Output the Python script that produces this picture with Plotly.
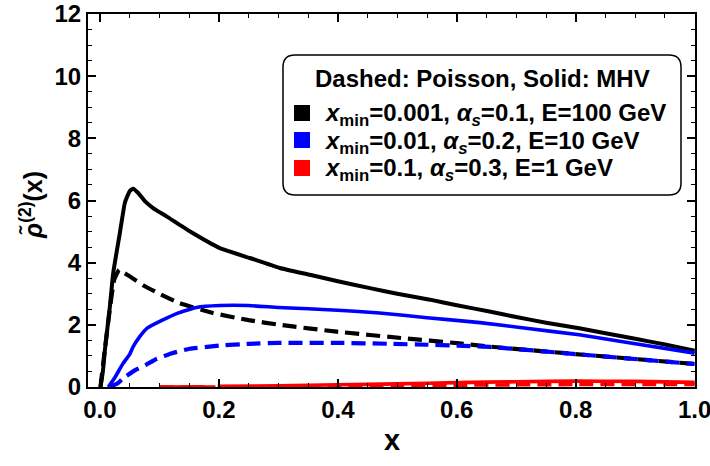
import plotly.graph_objects as go

# ---------------- data ----------------
black_mhv_x = [0.001, 0.005, 0.0084, 0.0168, 0.0224, 0.0336, 0.042, 0.05, 0.056, 0.064, 0.0756,
               0.09, 0.112, 0.151, 0.2017, 0.252, 0.3025, 0.353, 0.40, 0.454, 0.50, 0.555, 0.60,
               0.655, 0.70, 0.75, 0.806, 0.85, 0.90, 0.95, 1.0]
black_mhv_y = [0.0, 0.5, 1.19, 2.59, 3.67, 4.96, 5.93, 6.3, 6.38, 6.25, 5.98,
               5.75, 5.49, 5.01, 4.47, 4.15, 3.83, 3.61, 3.40, 3.18, 3.0, 2.81, 2.63,
               2.43, 2.25, 2.07, 1.89, 1.73, 1.55, 1.37, 1.17]

black_poi_x = [0.001, 0.008, 0.016, 0.024, 0.0325, 0.04, 0.05, 0.075, 0.1, 0.134, 0.19, 0.25,
               0.3025, 0.398, 0.51, 0.60, 0.655, 0.818, 1.0]
black_poi_y = [0.0, 1.15, 2.4, 3.45, 3.77, 3.68, 3.56, 3.25, 3.0, 2.70, 2.38, 2.15,
               2.0, 1.78, 1.57, 1.41, 1.30, 1.03, 0.74]

blue_mhv_x = [0.014, 0.025, 0.039, 0.05, 0.056, 0.067, 0.08, 0.106, 0.13, 0.1625, 0.2017, 0.25,
              0.30, 0.40, 0.47, 0.55, 0.639, 0.72, 0.806, 0.90, 1.0]
blue_mhv_y = [0.0, 0.3, 0.76, 1.05, 1.3, 1.62, 1.9, 2.16, 2.37, 2.56, 2.62, 2.62,
              2.56, 2.47, 2.38, 2.23, 2.07, 1.88, 1.68, 1.39, 1.09]

blue_poi_x = [0.016, 0.03, 0.039, 0.06, 0.078, 0.095, 0.12, 0.151, 0.2, 0.25, 0.3, 0.4,
              0.487, 0.55, 0.60, 0.655, 0.818, 1.0]
blue_poi_y = [0.0, 0.12, 0.28, 0.55, 0.72, 0.9, 1.08, 1.23, 1.33, 1.39, 1.42, 1.42,
              1.39, 1.36, 1.33, 1.29, 1.03, 0.74]

red_mhv_x = [0.1, 0.176, None, 0.198, 0.3, 0.4, 0.5, 0.6, 0.7, 0.8, 0.9, 1.0]
red_mhv_y = [0.0, 0.01, None, 0.02, 0.04, 0.07, 0.10, 0.14, 0.17, 0.19, 0.18, 0.15]

red_poi_x = [0.1, 0.2, 0.3, 0.4, 0.5, 0.6, 0.7, 0.8, 0.9, 1.0]
red_poi_y = [0.0, 0.0, 0.01, 0.03, 0.05, 0.06, 0.07, 0.08, 0.08, 0.08]

x_ticks = [0.0, 0.2, 0.4, 0.6, 0.8, 1.0]
x_ticktext = ["0.0", "0.2", "0.4", "0.6", "0.8", "1.0"]
y_ticks = [0, 2, 4, 6, 8, 10, 12]

legend_title = "Dashed: Poisson, Solid: MHV"
legend_labels = [
    "<i>x</i><sub>min</sub>=0.001, <i>α<sub>s</sub></i>=0.1, E=100 GeV",
    "<i>x</i><sub>min</sub>=0.01, <i>α<sub>s</sub></i>=0.2, E=10 GeV",
    "<i>x</i><sub>min</sub>=0.1, <i>α<sub>s</sub></i>=0.3, E=1 GeV",
]
legend_colors = ["#000000", "#0000FF", "#FF0000"]

# ---------------- layout geometry ----------------
W, H = 710, 466
L, R, T, B = 88, 15, 14, 79
PW, PH = W - L - R, H - T - B


def pxx(x):
    return (x - L) / PW


def pxy(y):
    return (H - B - y) / PH


FONT = "Liberation Sans, Arial, sans-serif"

fig = go.Figure()

DASH = "14px,7px"
series = [
    (black_poi_x, black_poi_y, "#000000", DASH, 4.2),
    (blue_poi_x, blue_poi_y, "#0000FF", DASH, 4.2),
    (red_poi_x, red_poi_y, "#FF0000", DASH, 3.6),
    (black_mhv_x, black_mhv_y, "#000000", "solid", 4.0),
    (blue_mhv_x, blue_mhv_y, "#0000FF", "solid", 3.6),
    (red_mhv_x, red_mhv_y, "#FF0000", "solid", 3.6),
]
for xs, ys, col, dash, w in series:
    fig.add_trace(go.Scatter(x=xs, y=ys, mode="lines",
                             line=dict(color=col, width=w, dash=dash, shape="spline", smoothing=0.4),
                             showlegend=False, hoverinfo="skip", connectgaps=False))

axis_common = dict(
    showgrid=False, zeroline=False, showline=True, linecolor="black", linewidth=2,
    mirror="ticks", ticks="inside", ticklen=8, tickwidth=1.5, tickcolor="black",
    automargin=False, ticklabeloverflow="allow",
    tickfont=dict(family=FONT, size=24, color="black", weight="bold"),
)

fig.update_xaxes(range=[-0.02, 1.0005], tickvals=x_ticks, ticktext=x_ticktext,
                 minor=dict(dtick=0.05, tick0=0, ticks="inside", ticklen=4, tickwidth=1.2, tickcolor="black"),
                 **axis_common)
fig.update_yaxes(range=[0, 12], tickvals=y_ticks,
                 minor=dict(dtick=0.5, tick0=0, ticks="inside", ticklen=4, tickwidth=1.2, tickcolor="black"),
                 **axis_common)

# legend box (rounded)
x0, x1, y0, y1, r = 283, 681, 55, 195, 12
pts = [
    ("M", [(x0 + r, y0)]), ("L", [(x1 - r, y0)]), ("Q", [(x1, y0), (x1, y0 + r)]),
    ("L", [(x1, y1 - r)]), ("Q", [(x1, y1), (x1 - r, y1)]),
    ("L", [(x0 + r, y1)]), ("Q", [(x0, y1), (x0, y1 - r)]),
    ("L", [(x0, y0 + r)]), ("Q", [(x0, y0), (x0 + r, y0)]),
]
path = " ".join(cmd + " " + " ".join(f"{pxx(a):.5f},{pxy(b):.5f}" for a, b in p) for cmd, p in pts) + " Z"
fig.add_shape(type="path", path=path, xref="paper", yref="paper",
              line=dict(color="black", width=1.5), fillcolor="white", layer="above")

annotations = []
annotations.append(dict(text="<b>" + legend_title + "</b>", x=pxx(482), y=pxy(78), xref="paper", yref="paper",
                        xanchor="center", yanchor="middle", showarrow=False,
                        font=dict(family=FONT, size=24, color="black")))
row_y = [113, 140, 168]
for lab, col, ry in zip(legend_labels, legend_colors, row_y):
    fig.add_shape(type="rect", xref="paper", yref="paper", x0=pxx(294), x1=pxx(310), y0=pxy(ry + 8), y1=pxy(ry - 8),
                  fillcolor=col, line=dict(width=0), layer="above")
    annotations.append(dict(text="<b>" + lab + "</b>", x=pxx(322), y=pxy(ry + 2), xref="paper", yref="paper",
                            xanchor="left", yanchor="middle", showarrow=False,
                            font=dict(family=FONT, size=24, color="black")))

# axis titles
annotations.append(dict(text="<b>x</b>", x=pxx(392), y=pxy(440), xref="paper", yref="paper",
                        xanchor="center", yanchor="middle", showarrow=False,
                        font=dict(family=FONT, size=29, color="black")))
annotations.append(dict(text="<b><i>ρ̃</i><sup>(2)</sup>(x)</b>", x=pxx(31), y=pxy(205), xref="paper", yref="paper",
                        xanchor="center", yanchor="middle", showarrow=False, textangle=-90,
                        font=dict(family=FONT, size=25, color="black")))

fig.update_layout(
    width=W, height=H, margin=dict(l=L, r=R, t=T, b=B, autoexpand=False),
    paper_bgcolor="white", plot_bgcolor="white",
    annotations=annotations, showlegend=False,
)

fig.write_html("out.html", config={"displayModeBar": False},
               post_script="document.body.style.margin='0';document.body.style.overflow='hidden';")
